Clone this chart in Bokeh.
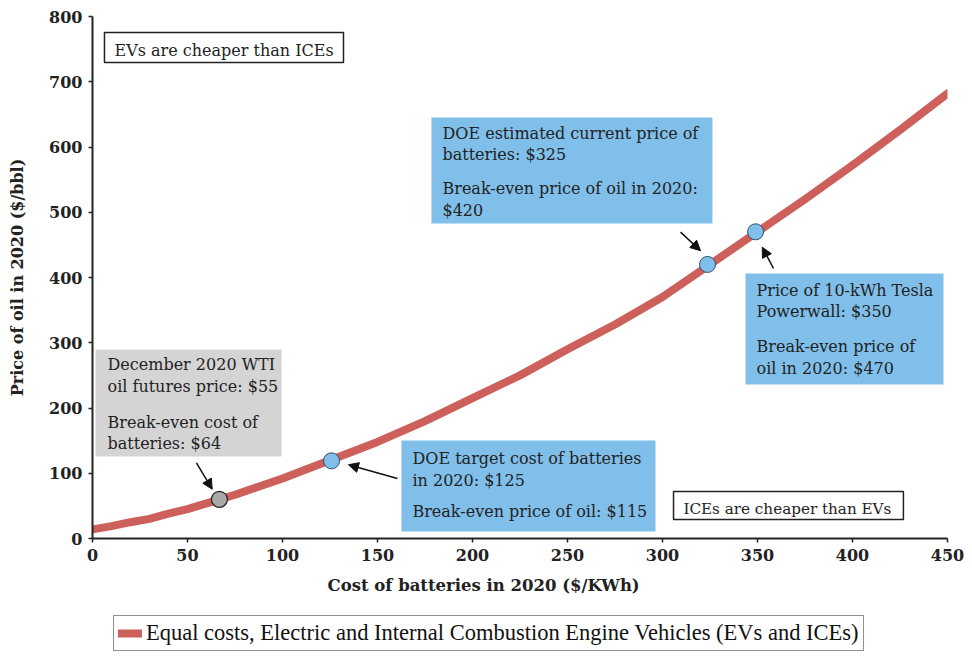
from bokeh.plotting import figure
from bokeh.layouts import column
from bokeh.models import (Range1d, Label, BoxAnnotation, Arrow, NormalHead, Legend,
                          LegendItem, FixedTicker, ColumnDataSource, Title)
from bokeh.embed import file_html
from bokeh.resources import INLINE

# ---- data ----
battery_cost = [0, 10, 20, 30, 40, 50, 67, 75, 90, 100, 125, 150, 175, 200, 225, 250,
                275, 300, 325, 350, 375, 400, 425, 450]
oil_price = [14, 19, 25, 30, 38, 45, 60, 67, 82, 92, 120, 148, 180, 215, 250, 290,
             328, 370, 420, 470, 520, 572, 626, 682]
blue_x = [125.8, 323.7, 349]
blue_y = [119, 420, 470]
gray_x = [66.8]
gray_y = [60]
x_ticks = [0, 50, 100, 150, 200, 250, 300, 350, 400, 450]
y_ticks = [0, 100, 200, 300, 400, 500, 600, 700, 800]
series_name = "Equal costs, Electric and Internal Combustion Engine Vehicles (EVs and ICEs)"

RED = "#CD605A"
BLUE = "#80BFEA"
GRAY_BOX = "#D4D4D4"
SERIF = "DejaVu Serif"
FS = "16px"
INK = "#222222"

p = figure(width=964, height=612, output_backend="svg", toolbar_location=None,
           x_range=Range1d(0, 450), y_range=Range1d(0, 800),
           min_border_left=92, min_border_right=17, min_border_top=16, min_border_bottom=74)
p.outline_line_color = None
p.grid.grid_line_color = None
p.background_fill_color = "white"

for ax in (p.xaxis[0], p.yaxis[0]):
    ax.axis_line_width = 2
    ax.axis_line_color = INK
    ax.major_tick_line_color = INK
    ax.major_tick_line_width = 1.5
    ax.major_tick_in = 0
    ax.major_tick_out = 4
    ax.minor_tick_line_color = None
    ax.major_label_text_font = SERIF
    ax.major_label_text_font_style = "bold"
    ax.major_label_text_font_size = "16px"
    ax.major_label_text_color = INK
    ax.major_label_standoff = 6
p.xaxis.ticker = FixedTicker(ticks=x_ticks)
p.yaxis.ticker = FixedTicker(ticks=y_ticks)
p.yaxis.axis_label = "Price of oil in 2020 ($/bbl)"
p.yaxis.axis_label_text_font = SERIF
p.yaxis.axis_label_text_font_style = "bold"
p.yaxis.axis_label_text_font_size = "16px"
p.yaxis.axis_label_text_color = INK
p.yaxis.axis_label_standoff = 19

src = ColumnDataSource(dict(x=battery_cost, y=oil_price))
curve = p.line("x", "y", source=src, line_color=RED, line_width=8, line_cap="round",
               line_join="round")

# ---- boxes ----
def box(l, r, b, t, fill, border=None):
    p.add_layout(BoxAnnotation(left=l, right=r, bottom=b, top=t, fill_color=fill, fill_alpha=1,
                               line_color=border, line_alpha=1,
                               line_width=1.5 if border else 0, level="underlay"))

box(1.6, 99.5, 125.7, 289.7, GRAY_BOX)
box(178.4, 326.3, 482.8, 645.2, BLUE)
box(343.7, 447.9, 236.0, 406.1, BLUE)
box(162.6, 296.3, 10.7, 150.2, BLUE)
box(6.3, 132.1, 729.5, 775.5, "white", INK)
box(305.8, 426.8, 29.0, 72.0, "white", INK)

def txt(x, y, s, fs=FS):
    p.add_layout(Label(x=x, y=y, text=s, text_font=SERIF, text_font_size=fs,
                       text_color=INK, text_baseline="top", text_line_height=1.14))

txt(7.9, 280.5, "December 2020 WTI\noil futures price: $55")
txt(7.9, 193, "Break-even cost of\nbatteries: $64")
txt(184.2, 636, "DOE estimated current price of\nbatteries: $325")
txt(184.2, 550.6, "Break-even price of oil in 2020:\n$420")
txt(349.5, 395, "Price of 10-kWh Tesla\nPowerwall: $350")
txt(349.5, 309, "Break-even price of\noil in 2020: $470")
txt(168.4, 136.9, "DOE target cost of batteries\nin 2020: $125")
txt(168.4, 55.2, "Break-even price of oil: $115")
txt(11.6, 763, "EVs are cheaper than ICEs")
txt(311, 59.5, "ICEs are cheaper than EVs", fs="15.2px")

# ---- arrows ----
def arr(x0, y0, x1, y1):
    p.add_layout(Arrow(x_start=x0, y_start=y0, x_end=x1, y_end=y1, line_width=1.5,
                       line_color="#111111",
                       end=NormalHead(size=10, fill_color="#111111", line_color="#111111")))

arr(54.7, 116, 63.0, 75.5)
arr(160.5, 92, 134.7, 113)
arr(309.5, 469.6, 320, 441)
arr(358.4, 414, 352.5, 446.5)

# ---- points ----
p.scatter(blue_x, blue_y, size=16, fill_color=BLUE, line_color="#2f4f6f", line_width=1)
p.scatter(gray_x, gray_y, size=16, fill_color="#A8A8A8", line_color=INK, line_width=1.2)

# ---- x axis title ----
p.add_layout(Title(text="Cost of batteries in 2020 ($/KWh)", align="left", offset=235,
                   text_font=SERIF, text_font_style="bold", text_font_size="16.5px",
                   text_color=INK, standoff=20), "below")

# ---- legend (separate strip; proxy line lies outside its visible range) ----
p2 = figure(width=964, height=44, output_backend="svg", toolbar_location=None,
            x_range=Range1d(-1, 0), y_range=Range1d(-1, 0), x_axis_type=None, y_axis_type=None,
            min_border=0)
p2.outline_line_color = None
p2.grid.grid_line_color = None
proxy = p2.line(battery_cost, oil_price, line_color=RED, line_width=8, line_cap="round")
legend = Legend(items=[LegendItem(label=series_name, renderers=[proxy])],
                location=(21, 5), border_line_color=INK, border_line_width=1.5,
                label_text_font="Liberation Serif", label_text_font_size="22.5px",
                label_text_color="#111111", glyph_width=24, padding=4, margin=0,
                spacing=0, label_standoff=4,
                background_fill_color="white", background_fill_alpha=1)
p2.add_layout(legend)

open("out.html", "w").write(file_html(column(p, p2, spacing=0), INLINE))
